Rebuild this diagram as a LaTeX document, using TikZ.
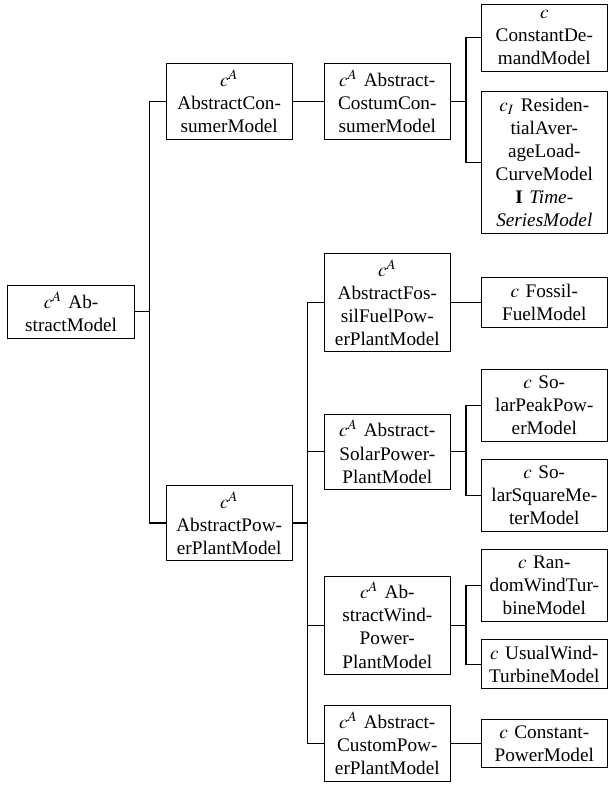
\documentclass[tikz,border=0pt]{standalone}
\usepackage{mathptmx}
\usepackage{fontspec}
\setmainfont{Liberation Serif}
\usepackage{tikz}
\usetikzlibrary{calc}

\begin{document}
\begin{tikzpicture}[cls/.style={draw, text width=2.08cm, align=center, inner sep=3.3pt}]
    \useasboundingbox (0,0) rectangle (11.11,-14.35);
    % level 0
    \node[cls] (root) at (1.30,-5.70) {$c^A$ Ab-\\stractModel};
    % level 1
    \node[cls] (cons) at (4.19,-1.85) {$c^A$\\AbstractCon-\\sumerModel};
    \node[cls] (pp) at (4.19,-9.56) {$c^A$\\AbstractPow-\\erPlantModel};
    % level 2
    \node[cls] (ccons) at (7.08,-1.85) {$c^A$ Abstract-\\CostumCon-\\sumerModel};
    \node[cls] (foss) at (7.08,-5.53) {$c^A$\\AbstractFos-\\silFuelPow-\\erPlantModel};
    \node[cls] (sol) at (7.08,-8.26) {$c^A$ Abstract-\\SolarPower-\\PlantModel};
    \node[cls] (wind) at (7.08,-11.43) {$c^A$ Ab-\\stractWind-\\Power-\\PlantModel};
    \node[cls] (cust) at (7.08,-13.59) {$c^A$ Abstract-\\CustomPow-\\erPlantModel};
    % level 3
    \node[cls] (cdem) at (9.95,-0.69) {$c$\\ConstantDe-\\mandModel};
    \node[cls] (res) at (9.95,-2.97) {$c_I$ Residen-\\tialAver-\\ageLoad-\\CurveModel\\\textbf{I} \textit{Time-}\\\textit{SeriesModel}};
    \node[cls] (fossm) at (9.95,-5.53) {$c$ Fossil-\\FuelModel};
    \node[cls] (speak) at (9.95,-7.41) {$c$ So-\\larPeakPow-\\erModel};
    \node[cls] (ssq) at (9.95,-9.06) {$c$ So-\\larSquareMe-\\terModel};
    \node[cls] (rwind) at (9.95,-10.70) {$c$ Ran-\\domWindTur-\\bineModel};
    \node[cls] (uwind) at (9.95,-12.14) {$c$ UsualWind-\\TurbineModel};
    \node[cls] (cpow) at (9.95,-13.59) {$c$ Constant-\\PowerModel};
    % forks
    \draw[semithick] (root.east) -- ++(0.275,0) |- (cons.west);
    \draw[semithick] (root.east) -- ++(0.275,0) |- (pp.west);
    \draw[semithick] (cons.east) -- (ccons.west);
    \draw[semithick] (ccons.east) -- ++(0.275,0) |- (cdem.west);
    \draw[semithick] (ccons.east) -- ++(0.275,0) |- (res.west);
    \draw[semithick] (pp.east) -- ++(0.275,0) |- (foss.west);
    \draw[semithick] (pp.east) -- ++(0.275,0) |- (sol.west);
    \draw[semithick] (pp.east) -- ++(0.275,0) |- (wind.west);
    \draw[semithick] (pp.east) -- ++(0.275,0) |- (cust.west);
    \draw[semithick] (foss.east) -- (fossm.west);
    \draw[semithick] (sol.east) -- ++(0.275,0) |- (speak.west);
    \draw[semithick] (sol.east) -- ++(0.275,0) |- (ssq.west);
    \draw[semithick] (wind.east) -- ++(0.275,0) |- (rwind.west);
    \draw[semithick] (wind.east) -- ++(0.275,0) |- (uwind.west);
    \draw[semithick] (cust.east) -- (cpow.west);
\end{tikzpicture}
\end{document}
